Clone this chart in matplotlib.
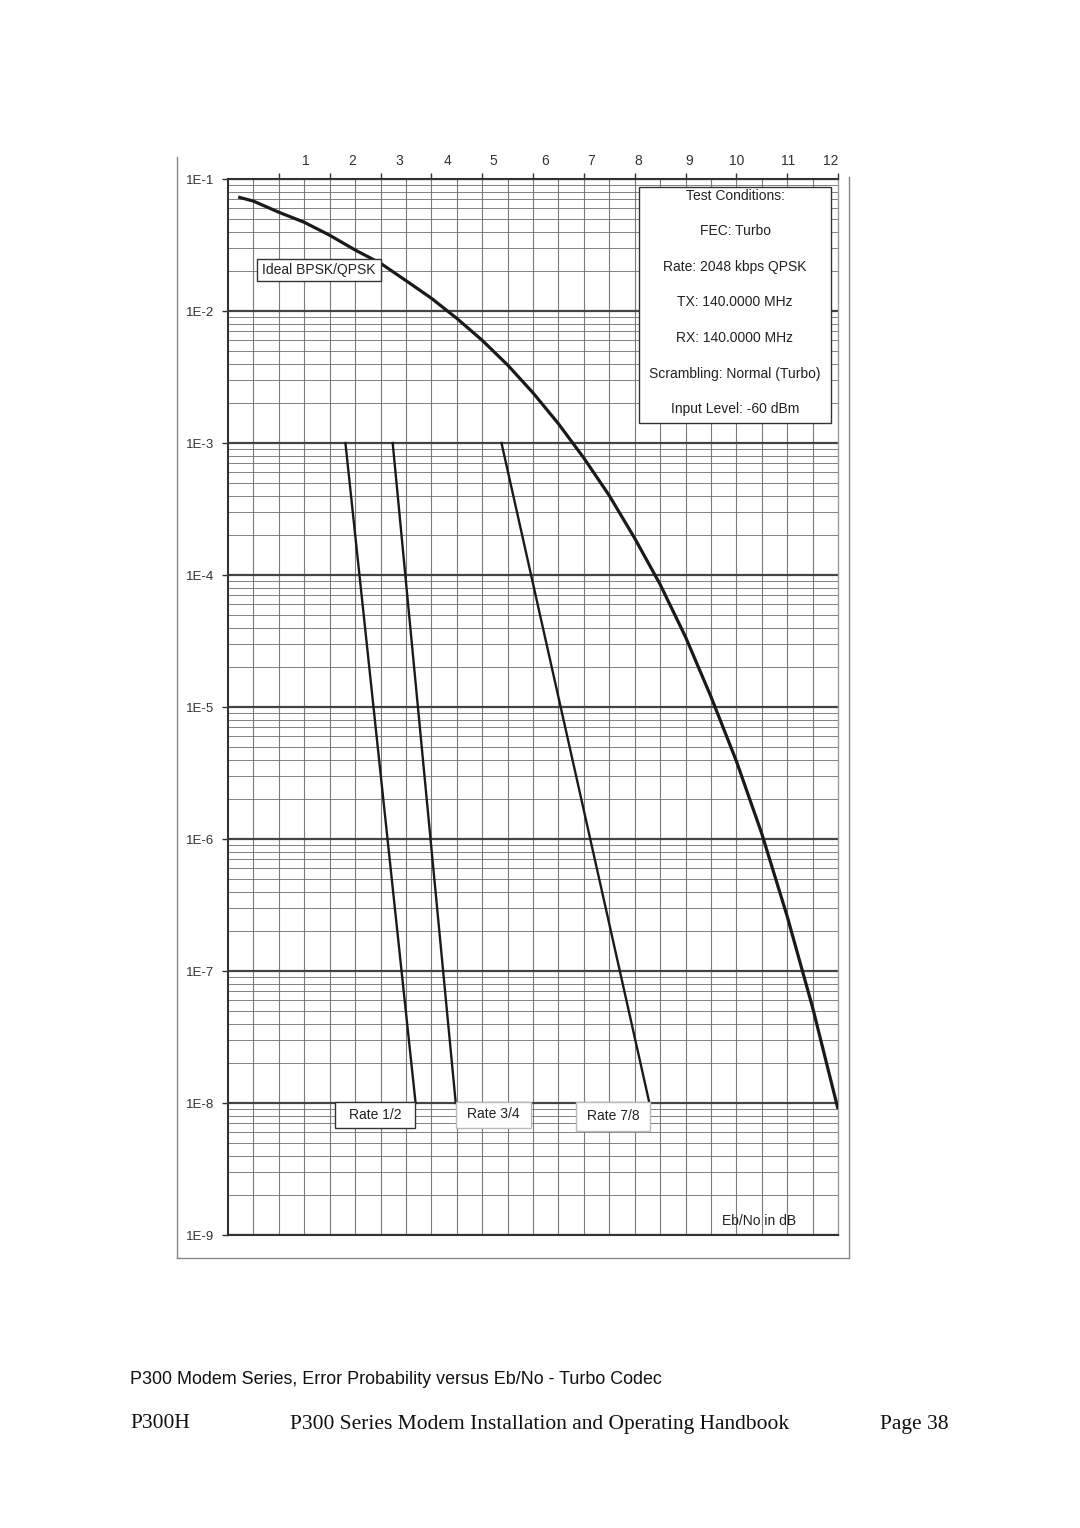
import matplotlib
matplotlib.use("Agg")
import matplotlib.pyplot as plt
from matplotlib.lines import Line2D
from matplotlib.patches import Rectangle
from matplotlib.ticker import FixedLocator, NullFormatter

W, H = 1080, 1528
plt.rcParams['font.family'] = ['Liberation Sans', 'DejaVu Sans']

# ideal BPSK/QPSK curve (Eb/No dB, BER)
bpsk_ebno = [0.2, 0.5, 1.0, 1.5, 2.0, 2.5, 3.0, 3.5, 4.0, 4.5, 5.0, 5.5, 6.0,
             6.5, 7.0, 7.5, 8.0, 8.5, 9.0, 9.5, 10.0, 10.5, 11.0, 11.5, 12.0]
bpsk_ber = [7.3e-2, 6.8e-2, 5.6e-2, 4.7e-2, 3.75e-2, 2.9e-2, 2.3e-2, 1.7e-2,
            1.25e-2, 8.8e-3, 6.0e-3, 3.9e-3, 2.4e-3, 1.4e-3, 7.7e-4, 4.0e-4,
            1.9e-4, 8.5e-5, 3.4e-5, 1.2e-5, 3.9e-6, 1.1e-6, 2.6e-7, 5.3e-8, 9.0e-9]

# turbo code measured lines (start at 1E-3, end at 1E-8)
rate_names = ["Rate 1/2", "Rate 3/4", "Rate 7/8"]
rate_ebno = [[2.31, 3.69], [3.24, 4.48], [5.38, 8.29]]
rate_ber = [[1e-3, 1e-8], [1e-3, 1e-8], [1e-3, 1e-8]]

decade_labels = ["1E-1", "1E-2", "1E-3", "1E-4", "1E-5", "1E-6", "1E-7", "1E-8", "1E-9"]
decade_values = [1e-1, 1e-2, 1e-3, 1e-4, 1e-5, 1e-6, 1e-7, 1e-8, 1e-9]
top_labels = ["1", "2", "3", "4", "5", "6", "7", "8", "9", "10", "11", "12"]

conditions = ["Test Conditions:", "FEC: Turbo", "Rate: 2048 kbps QPSK",
              "TX: 140.0000 MHz", "RX: 140.0000 MHz",
              "Scrambling: Normal (Turbo)", "Input Level: -60 dBm"]


def fx(px):
    return px / W


def fy(py):
    return 1 - py / H


fig = plt.figure(figsize=(W / 100, H / 100), dpi=100)
ax = fig.add_axes([fx(228), fy(1235), (838 - 228) / W, (1235 - 179) / H])
ax.set_yscale("log")
ax.set_xlim(0, 12)
ax.set_ylim(1e-9, 1e-1)

# grid
for i in range(1, 24):
    ax.axvline(i * 0.5, color="#7a7a7a", lw=0.8, zorder=1)
for d in range(-9, -1):
    for m in range(2, 10):
        ax.axhline(m * 10.0 ** d, color="#6e6e6e", lw=0.6, zorder=1)
for v in decade_values:
    ax.axhline(v, color="#444444", lw=1.6, zorder=1.5)

ax.plot(bpsk_ebno, bpsk_ber, color="#1a1a1a", lw=2.3, zorder=3,
        solid_capstyle="butt")
for xs, ys in zip(rate_ebno, rate_ber):
    ax.plot(xs, ys, color="#1a1a1a", lw=1.7, zorder=3)

# axes styling
ax.yaxis.set_major_locator(FixedLocator(decade_values))
ax.set_yticklabels(decade_labels)
ax.yaxis.set_minor_formatter(NullFormatter())
ax.tick_params(axis="y", which="major", length=4, width=1, pad=6,
               labelsize=9.5, labelcolor="#333333", color="#333333")
ax.tick_params(axis="y", which="minor", length=0)
ax.xaxis.set_major_locator(FixedLocator(range(1, 13)))
ax.tick_params(axis="x", which="both", top=True, bottom=False,
               labeltop=False, labelbottom=False, length=4, width=1,
               color="#333333", direction="out")
for s in ["left", "top", "bottom"]:
    ax.spines[s].set_color("#333333")
    ax.spines[s].set_linewidth(1.5)
ax.spines["right"].set_color("#999999")
ax.spines["right"].set_linewidth(1.0)

# top labels as drawn (offset from the tick marks in the original)
sec = ax.secondary_xaxis("top")
sec.set_xticks([1.53, 2.44, 3.36, 4.31, 5.21, 6.24, 7.14, 8.07, 9.07,
                10.01, 11.02, 11.86], top_labels)
sec.tick_params(length=0, pad=8, labelsize=10, labelcolor="#333333")
sec.spines["top"].set_visible(False)


def box(x0, y0, x1, y1, edge):
    r = Rectangle((fx(x0), fy(y1)), fx(x1) - fx(x0), fy(y0) - fy(y1),
                  transform=fig.transFigure, facecolor="white",
                  edgecolor=edge, lw=1.0, zorder=5)
    fig.add_artist(r)


def label(xc, yc, s, size=10):
    fig.text(fx(xc), fy(yc), s, ha="center", va="center", fontsize=size,
             color="#222222", zorder=6)


box(257, 259, 381, 281, "#333333")
label(319, 270, "Ideal BPSK/QPSK")

box(639, 187, 831, 423, "#333333")
for txt, yy in zip(conditions, [196, 231, 267, 302, 338, 374, 409]):
    label(735, yy, txt)

box(335, 1102, 415, 1128, "#333333")
label(375, 1115, rate_names[0])
box(456, 1102, 531, 1128, "#bbbbbb")
label(493, 1114, rate_names[1])
box(576, 1102, 650, 1131, "#bbbbbb")
label(613, 1116, rate_names[2])

label(759, 1221, "Eb/No in dB")

# outer frame of the pasted chart
for xs, ys in [([176.5, 176.5], [157, 1258]), ([176.5, 848.5], [1258, 1258]),
               ([848.5, 848.5], [177, 1258])]:
    fig.add_artist(Line2D([fx(x) for x in xs], [fy(y) for y in ys],
                          transform=fig.transFigure, color="#888888", lw=1.0))

fig.text(fx(130), fy(1379), "P300 Modem Series, Error Probability versus Eb/No - Turbo Codec",
         ha="left", va="center", fontsize=12.9, color="#111111")
serif = ["Liberation Serif", "DejaVu Serif"]
fig.text(fx(130), fy(1424), "P300H", ha="left", va="center", fontsize=15.5,
         family=serif, color="#111111")
fig.text(fx(540), fy(1424), "P300 Series Modem Installation and Operating Handbook",
         ha="center", va="center", fontsize=15.5, family=serif, color="#111111")
fig.text(fx(949), fy(1424), "Page 38", ha="right", va="center", fontsize=15.5,
         family=serif, color="#111111")

fig.savefig("out.png", dpi=100)
